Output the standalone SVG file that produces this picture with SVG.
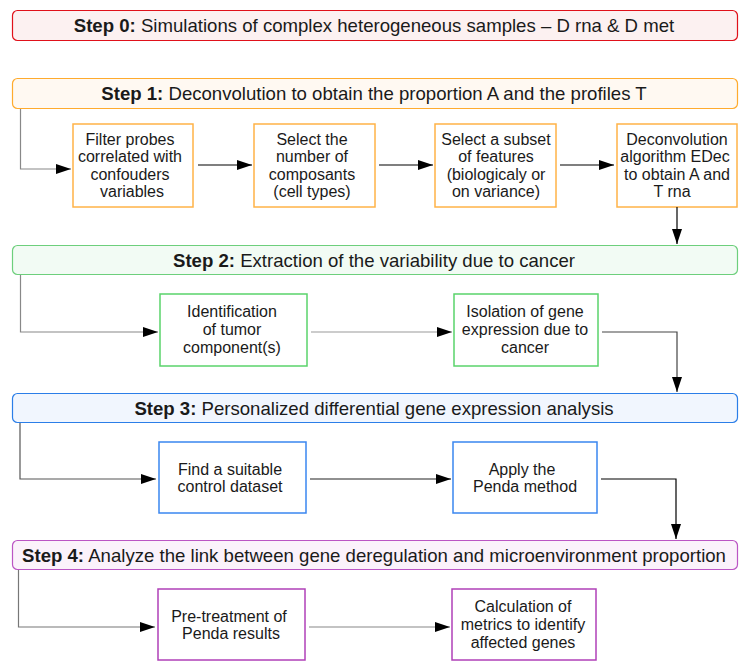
<svg xmlns="http://www.w3.org/2000/svg" width="750" height="671" viewBox="0 0 750 671">
<style>
text{font-family:"Liberation Sans",Arial,sans-serif;fill:#1a1a1a}
.h{font-size:18.6px;text-anchor:middle}
.b{font-size:16px;text-anchor:middle}
.bold{font-weight:bold}
.bx{fill:#fff;stroke-width:1.5}
.ln{fill:none;stroke-width:1.2}
</style>
<defs>
<marker id="ah" markerWidth="16" markerHeight="12" refX="15" refY="5" orient="auto" markerUnits="userSpaceOnUse">
<path d="M0,0 L15,5 L0,10 Z" fill="#000"/>
</marker>
</defs>
<rect width="750" height="671" fill="#fff"/>

<g id="step0">
<rect x="12.5" y="10.5" width="725" height="30" rx="5" fill="#fcf1f1" stroke="#e0111a" stroke-width="1.2"/>
<text class="h" x="374" y="32"><tspan class="bold">Step 0:</tspan> Simulations of complex heterogeneous samples – D rna &amp; D met</text>
</g>

<g id="step1">
<rect x="12.5" y="78.5" width="725" height="30" rx="5" fill="#fff9f2" stroke="#ffab2e" stroke-width="1.2"/>
<text class="h" x="374" y="100"><tspan class="bold">Step 1:</tspan> Deconvolution to obtain the proportion A and the profiles T</text>
</g>
<g id="filter">
<rect class="bx" x="73" y="124" width="120" height="83" stroke="#ffb347"/>
<text class="b" x="130" y="144.5">Filter probes</text>
<text class="b" x="130" y="162">correlated with</text>
<text class="b" x="130" y="179.5">confouders</text>
<text class="b" x="132" y="197">variables</text>
</g>
<g id="select">
<rect class="bx" x="254" y="124" width="121" height="83" stroke="#ffb347"/>
<text class="b" x="312" y="144.5">Select the</text>
<text class="b" x="312" y="162">number of</text>
<text class="b" x="312" y="179.5">composants</text>
<text class="b" x="312" y="197">(cell types)</text>
</g>
<g id="subset">
<rect class="bx" x="435" y="124" width="121" height="83" stroke="#ffb347"/>
<text class="b" x="496" y="144.5">Select a subset</text>
<text class="b" x="496" y="162">of features</text>
<text class="b" x="496" y="179.5">(biologicaly or</text>
<text class="b" x="496" y="197">on variance)</text>
</g>
<g id="edec">
<rect class="bx" x="617" y="124" width="120" height="83" stroke="#ffb347"/>
<text class="b" x="677" y="144.5">Deconvolution</text>
<text class="b" x="675" y="162">algorithm EDec</text>
<text class="b" x="677" y="179.5">to obtain A and</text>
<text class="b" x="672" y="197">T rna</text>
</g>

<g id="step2">
<rect x="12.5" y="245.5" width="725" height="29" rx="5" fill="#f2fbf4" stroke="#6dcf7c" stroke-width="1.2"/>
<text class="h" x="374" y="266.5"><tspan class="bold">Step 2:</tspan> Extraction of the variability due to cancer</text>
</g>
<g id="ident">
<rect class="bx" x="160" y="294" width="147" height="72" stroke="#5ad36b"/>
<text class="b" x="232" y="317">Identification</text>
<text class="b" x="232" y="335">of tumor</text>
<text class="b" x="232" y="353">component(s)</text>
</g>
<g id="isol">
<rect class="bx" x="454" y="294" width="144" height="72" stroke="#5ad36b"/>
<text class="b" x="525" y="317">Isolation of gene</text>
<text class="b" x="525" y="335">expression due to</text>
<text class="b" x="525" y="353">cancer</text>
</g>

<g id="step3">
<rect x="12.5" y="393.5" width="725" height="29" rx="5" fill="#f1f6fe" stroke="#2b7ee8" stroke-width="1.2"/>
<text class="h" x="374" y="414.5"><tspan class="bold">Step 3:</tspan> Personalized differential gene expression analysis</text>
</g>
<g id="find">
<rect class="bx" x="159" y="442" width="147" height="71" stroke="#3a86f0"/>
<text class="b" x="230" y="475">Find a suitable</text>
<text class="b" x="230" y="492">control dataset</text>
</g>
<g id="penda">
<rect class="bx" x="453" y="442" width="144" height="71" stroke="#3a86f0"/>
<text class="b" x="522" y="475">Apply the</text>
<text class="b" x="525" y="492">Penda method</text>
</g>

<g id="step4">
<rect x="12.5" y="540.5" width="725" height="29" rx="5" fill="#fbf2fb" stroke="#bb55c4" stroke-width="1.2"/>
<text class="h" x="374" y="561.5"><tspan class="bold">Step 4:</tspan> Analyze the link between gene deregulation and microenvironment proportion</text>
</g>
<g id="pretreat">
<rect class="bx" x="158" y="589" width="147" height="71" stroke="#b040b8"/>
<text class="b" x="229" y="622">Pre-treatment of</text>
<text class="b" x="231" y="639">Penda results</text>
</g>
<g id="calc">
<rect class="bx" x="452" y="589" width="144" height="71" stroke="#b040b8"/>
<text class="b" x="523" y="612">Calculation of</text>
<text class="b" x="523" y="630">metrics to identify</text>
<text class="b" x="523" y="648">affected genes</text>
</g>

<g id="connectors">
<path class="ln" d="M20.5,109 V169 H71" stroke="#888" marker-end="url(#ah)"/>
<path class="ln" d="M198,165 H252" stroke="#000" marker-end="url(#ah)"/>
<path class="ln" d="M379,165 H433" stroke="#000" marker-end="url(#ah)"/>
<path class="ln" d="M560,165 H614" stroke="#000" marker-end="url(#ah)"/>
<path class="ln" d="M677,207 V244" stroke="#000" marker-end="url(#ah)"/>
<path class="ln" d="M20.5,275 V332 H158" stroke="#888" marker-end="url(#ah)"/>
<path class="ln" d="M311,332 H452" stroke="#999" marker-end="url(#ah)"/>
<path class="ln" d="M602,332 H677 V392" stroke="#444" marker-end="url(#ah)"/>
<path class="ln" d="M20,423 V479 H156" stroke="#555" marker-end="url(#ah)"/>
<path class="ln" d="M310,479 H451" stroke="#222" marker-end="url(#ah)"/>
<path class="ln" d="M601,479 H676 V539" stroke="#000" marker-end="url(#ah)"/>
<path class="ln" d="M18.5,570 V627 H155" stroke="#777" marker-end="url(#ah)"/>
<path class="ln" d="M309,627 H450" stroke="#888" marker-end="url(#ah)"/>
</g>
</svg>
